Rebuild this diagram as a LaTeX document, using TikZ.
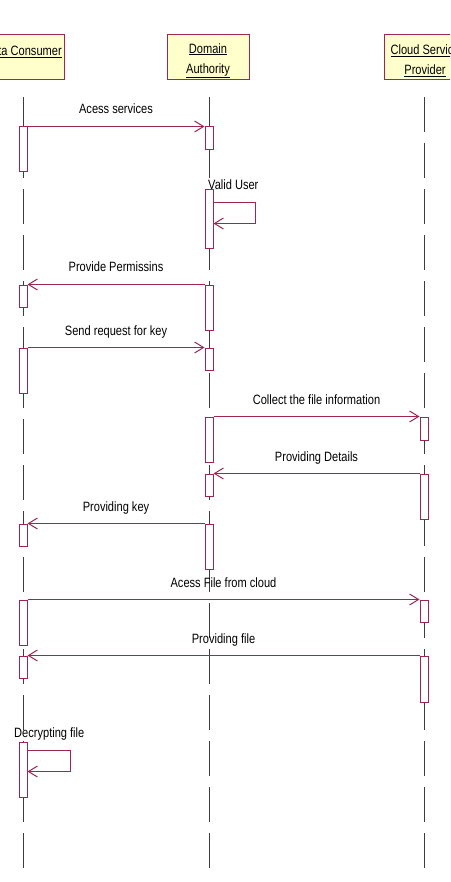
\documentclass[tikz,border=0pt]{standalone}
\usepackage{fontspec}
\setmainfont{Liberation Sans}[FakeStretch=0.82]
\usetikzlibrary{arrows.meta}

\definecolor{umlred}{RGB}{158,38,82}
\definecolor{umlfill}{RGB}{255,255,204}
\definecolor{lifegray}{RGB}{60,60,60}

\begin{document}
\begin{tikzpicture}[x=1pt,y=-1pt,
  font=\fontsize{13.5}{20}\selectfont,
  actor/.style={draw=umlred,line width=1pt,fill=umlfill,minimum width=82,minimum height=45,align=center,inner sep=0pt},
  lifeline/.style={lifegray,line width=1pt,dash pattern=on 35pt off 11pt},
  bar/.style={draw=umlred,line width=1pt,fill=white,minimum width=8,inner sep=0pt},
  msg/.style={umlred,line width=1pt,-{Straight Barb[length=9pt,width=11pt]}},
  lbl/.style={midway,anchor=base,yshift=12.5pt,inner sep=0pt,text=black}]

% 1. Page area (the outer boxes run off the sides)
\clip (0,0) rectangle (450,882);

% 2. Objects at the top
\node[actor] (dc) at (23,57.5) {\rule{0pt}{16pt}\underline{Data Consumer}\\\mbox{}};
\node[actor] (da) at (208,57.5) {\rule{0pt}{16pt}\underline{Domain}\\\underline{Authority}};
\node[actor] (csp) at (425,57.5) {\rule{0pt}{16pt}\underline{Cloud Service}\\\underline{Provider}};

% 3. Lifelines
\coordinate (dcTop) at (23,97);
\coordinate (dcEnd) at (23,869);
\coordinate (daTop) at (209,97);
\coordinate (daEnd) at (209,869);
\coordinate (cspTop) at (424,97);
\coordinate (cspEnd) at (424,869);

\draw[lifeline] (dcTop) -- (dcEnd);
\draw[lifeline] (daTop) -- (daEnd);
\draw[lifeline] (cspTop) -- (cspEnd);

% 4. Activation bars, Data Consumer
\node[bar,minimum height=45] (c1) at (23,149.5) {};
\node[bar,minimum height=22] (c2) at (23,296) {};
\node[bar,minimum height=45] (c3) at (23,370.5) {};
\node[bar,minimum height=22] (c4) at (23,535) {};
\node[bar,minimum height=45] (c5) at (23,622.5) {};
\node[bar,minimum height=22] (c6) at (23,667) {};
\node[bar,minimum height=55] (c7) at (23,769.5) {};

% 5. Activation bars, Domain Authority
\node[bar,minimum height=23] (d1) at (209,138.5) {};
\node[bar,minimum height=59] (d2) at (209,219.5) {};
\node[bar,minimum height=45] (d3) at (209,307.5) {};
\node[bar,minimum height=22] (d4) at (209,359) {};
\node[bar,minimum height=45] (d5) at (209,439.5) {};
\node[bar,minimum height=22] (d6) at (209,485) {};
\node[bar,minimum height=45] (d7) at (209,546.5) {};

% 6. Activation bars, Cloud Service Provider
\node[bar,minimum height=23] (p1) at (424,428.5) {};
\node[bar,minimum height=45] (p2) at (424,496.5) {};
\node[bar,minimum height=22] (p3) at (424,611) {};
\node[bar,minimum height=46] (p4) at (424,679) {};

% 7. Messages
\draw[msg] (c1.north east) -- node[lbl] {Acess services} (d1.north west);
\draw[msg] (d3.north west) -- node[lbl] {Provide Permissins} (c2.north east);
\draw[msg] (c3.north east) -- node[lbl] {Send request for key} (d4.north west);
\draw[msg] (d5.north east) -- node[lbl] {Collect the file information} (p1.north west);
\draw[msg] (p2.north west) -- node[lbl] {Providing Details} (d6.north east);
\draw[msg] (d7.north west) -- node[lbl] {Providing key} (c4.north east);
\draw[msg] (c5.north east) -- node[lbl] {Acess File from cloud} (p3.north west);
\draw[msg] (p4.north west) -- node[lbl] {Providing file} (c6.north east);

% 8. Self calls
\node[anchor=base west,inner sep=0pt] (vu) at (208,190) {Valid User};
\draw[msg] ([yshift=-13pt]d2.north east) -- ++(42,0) -- ++(0,21) -- ++(-42,0);

\node[anchor=base west,inner sep=0pt] (dec) at (14,737) {Decrypting file};
\draw[msg] ([yshift=-9pt]c7.north east) -- ++(43,0) -- ++(0,21) -- ++(-43,0);

\end{tikzpicture}
\end{document}
